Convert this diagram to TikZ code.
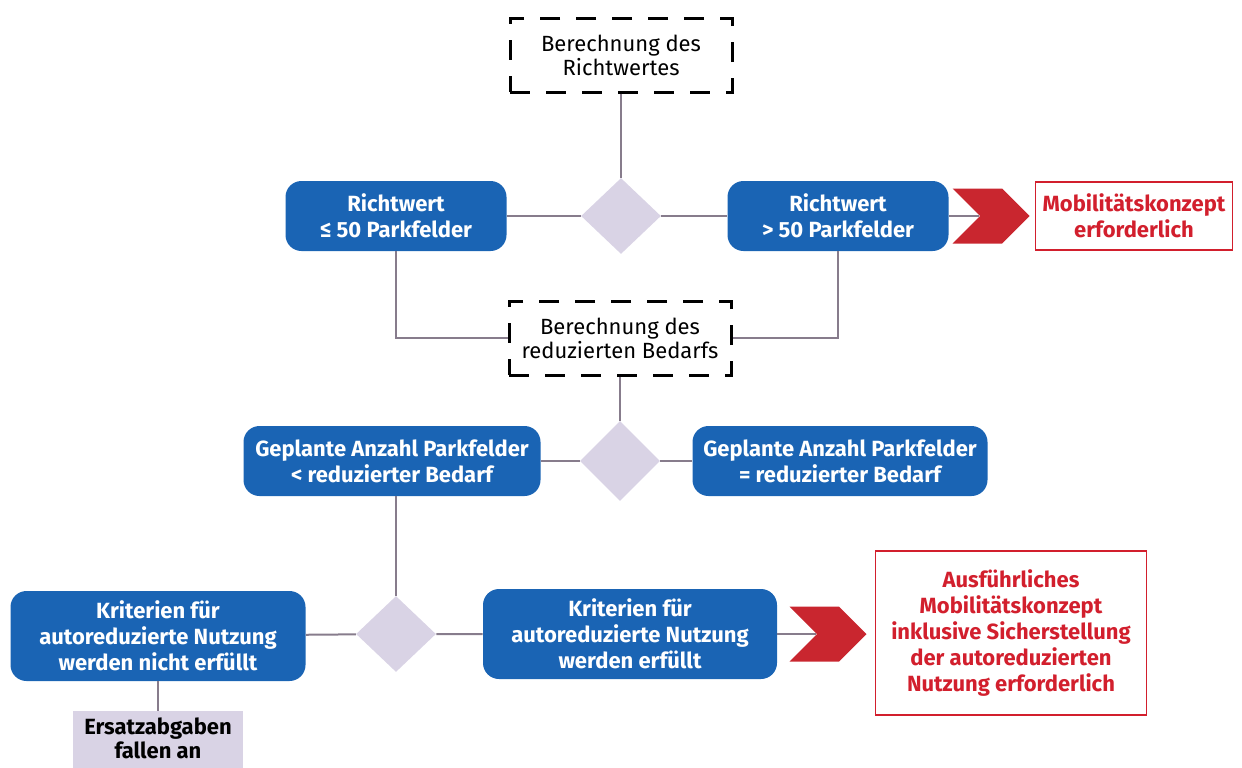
\documentclass[tikz,border=0pt]{standalone}
\usepackage{fontspec}
\setmainfont{Fira Sans}
\usetikzlibrary{shapes,positioning}

\definecolor{flowblue}{HTML}{1A64B4}
\definecolor{flowred}{HTML}{D21F2D}
\definecolor{chevred}{HTML}{C9262F}
\definecolor{lila}{HTML}{D9D3E5}
\definecolor{linkgray}{HTML}{877C8C}

\begin{document}
\begin{tikzpicture}[x=0.5pt,y=-0.5pt,
    calcbox/.style={draw=black, line width=1.5pt, dash pattern=on 10pt off 8pt,
        align=center, fill=white, minimum width=111pt, minimum height=37pt,
        font=\fontsize{11}{12}\selectfont},
    bluebox/.style={fill=flowblue, text=white, rounded corners=8pt, align=center,
        minimum height=35pt, font=\bfseries\fontsize{11}{13}\selectfont},
    decision/.style={diamond, fill=lila, minimum width=40pt, minimum height=38pt, inner sep=0pt},
    redbox/.style={draw=flowred, line width=0.8pt, text=flowred, align=center,
        font=\bfseries\fontsize{11}{13}\selectfont},
    chevron/.style={signal, signal from=west, signal to=east, fill=chevred,
        minimum width=38.5pt, minimum height=27.5pt, inner sep=0pt},
    lilabox/.style={fill=lila, align=center, anchor=north, minimum width=85pt,
        minimum height=40pt, text depth=18pt, font=\bfseries\fontsize{11}{12}\selectfont},
    link/.style={draw=linkgray, line width=1pt}]

    \clip (0,0) rectangle (1242,767);

    % Richtwert
    \node[calcbox] (calc1) at (621,55) {Berechnung des\\Richtwertes};
    \node[decision] (dec1) at (621,216) {};
    \node[bluebox, minimum width=110.5pt] (le50) at (396,216) {Richtwert\\≤ 50 Parkfelder};
    \node[bluebox, minimum width=110.5pt] (gt50) at (838,216) {Richtwert\\> 50 Parkfelder};
    \node[chevron] (chev1) at (991,216) {};
    \node[redbox, minimum width=98.5pt, minimum height=34pt] (konzept) at (1134,216) {Mobilitätskonzept\\erforderlich};

    \draw[link] (calc1) -- (dec1);
    \draw[link] (le50) -- (dec1) -- (gt50);
    \draw[link] (gt50.east) -- (chev1.west);

    % reduzierter Bedarf
    \node[calcbox] (calc2) at (620,338) {Berechnung des\\reduzierten Bedarfs};
    \draw[link] (le50.south) |- (calc2.west);
    \draw[link] (gt50.south) |- (calc2.east);

    \node[decision, minimum height=40pt] (dec2) at (620,461) {};
    \node[bluebox, minimum width=148.5pt] (planlt) at (392,461) {Geplante Anzahl Parkfelder\\< reduzierter Bedarf};
    \node[bluebox, minimum width=147.5pt] (planeq) at (840,461) {Geplante Anzahl Parkfelder\\= reduzierter Bedarf};

    \draw[link] (calc2) -- (dec2);
    \draw[link] (planlt) -- (dec2) -- (planeq);

    % Kriterien
    \node[decision] (dec3) at (396,634) {};
    \node[bluebox, minimum width=147.5pt, minimum height=45pt] (nicht) at (158,636) {Kriterien für\\autoreduzierte Nutzung\\werden nicht erfüllt};
    \node[bluebox, minimum width=147pt, minimum height=45pt] (erfuellt) at (630,634) {Kriterien für\\autoreduzierte Nutzung\\werden erfüllt};
    \node[chevron] (chev2) at (828,634) {};
    \node[redbox, minimum width=135.5pt, minimum height=82pt] (ausf) at (1011,633) {Ausführliches\\Mobilitätskonzept\\inklusive Sicherstellung\\der autoreduzierten\\Nutzung erforderlich};
    \node[lilabox] (ersatz) at (158,711) {Ersatzabgaben\\fallen an};

    \draw[link] (planlt.south -| dec3) -- (dec3);
    \draw[link] (nicht) -- (dec3) -- (erfuellt);
    \draw[link] (erfuellt.east) -- (chev2.west);
    \draw[link] (nicht) -- (ersatz);
\end{tikzpicture}
\end{document}
